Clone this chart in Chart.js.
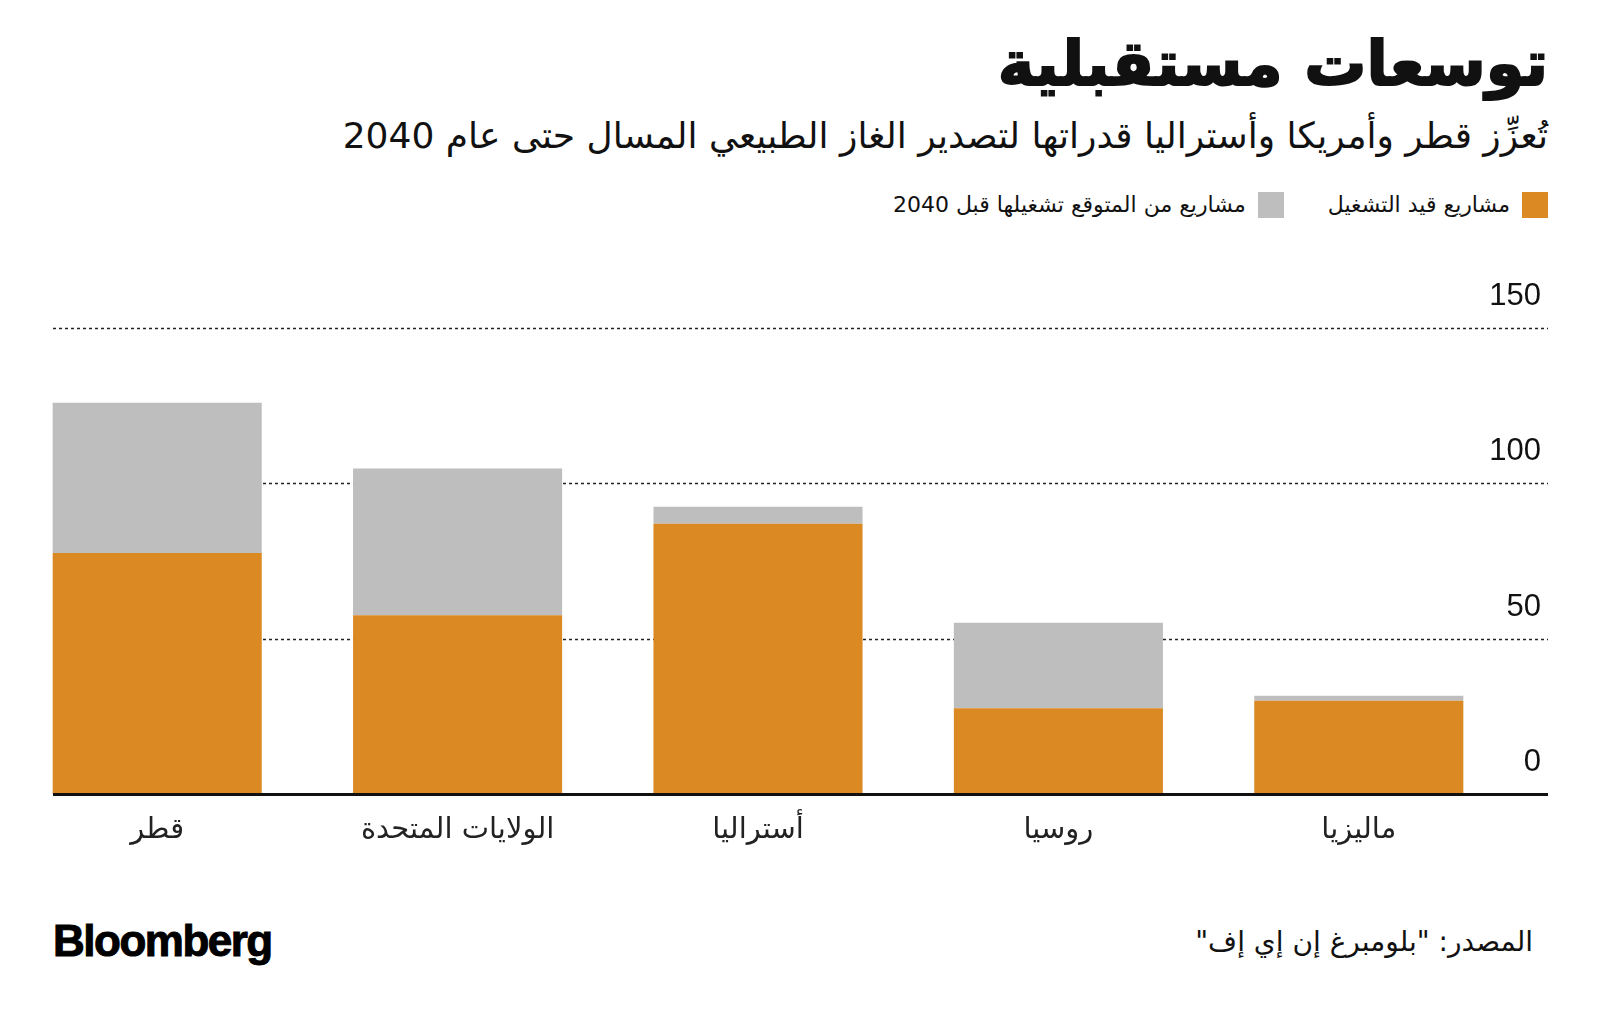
<!DOCTYPE html>
<html lang="ar">
<head>
<meta charset="utf-8">
<script src="https://cdn.jsdelivr.net/npm/chart.js@4.4.1/dist/chart.umd.min.js"></script>
<style>
  html, body { margin: 0; padding: 0; background: #fff; }
  body { width: 1600px; height: 1018px; position: relative; overflow: hidden; font-family: "DejaVu Sans", "Noto Sans", sans-serif; color: #111; }
  .rtl { position: absolute; right: 52px; direction: rtl; text-align: right; white-space: nowrap; line-height: 1; }
  #title { top: 33px; font-size: 62px; font-weight: bold; -webkit-text-stroke: 2px #111; }
  #subtitle { top: 118px; font-size: 36px; }
  #legend { top: 192px; font-size: 22px; display: flex; align-items: center; }
  .sw { width: 26px; height: 26px; display: inline-block; margin-left: 12px; }
  .lbl { margin-left: 44px; }
  #source { top: 928px; right: 67px; font-size: 28px; }
  #logo { position: absolute; left: 53px; top: 916px; font-family: "Liberation Sans", Arial, sans-serif; font-weight: bold; font-size: 44px; letter-spacing: -1.5px; color: #000; -webkit-text-stroke: 1px #000; }
  #chartBox { position: absolute; left: 0; top: 240px; width: 1600px; height: 620px; }
</style>
</head>
<body>
<div id="title" class="rtl">توسعات مستقبلية</div>
<div id="subtitle" class="rtl">تُعزِّز قطر وأمريكا وأستراليا قدراتها لتصدير الغاز الطبيعي المسال حتى عام 2040</div>
<div id="legend" class="rtl">
  <span class="sw" style="background:#DA8923"></span><span class="lbl">مشاريع قيد التشغيل</span>
  <span class="sw" style="background:#BEBEBE"></span><span>مشاريع من المتوقع تشغيلها قبل 2040</span>
</div>
<div id="chartBox"><canvas id="lngChart"></canvas></div>
<div id="logo">Bloomberg</div>
<div id="source" class="rtl">المصدر: "بلومبرغ إن إي إف"</div>

<script>
// LNG export capacity by country (left to right as shown)
const countries = ['قطر', 'الولايات المتحدة', 'أستراليا', 'روسيا', 'ماليزيا'];
const operating = [77.6, 57.5, 87, 27.6, 30];
const planned = [48.3, 47.3, 5.5, 27.5, 1.6];
const yTicks = [0, 50, 100, 150];

const orange = '#DA8923';
const grey = '#BEBEBE';

// dotted grid lines, baseline and right-side labels sit wider than the bar bands
const gridPlugin = {
    id: 'bbgGrid',
    beforeDatasetsDraw(chart) {
        const { ctx, scales: { y } } = chart;
        ctx.save();
        ctx.strokeStyle = '#222';
        ctx.lineWidth = 1.5;
        ctx.setLineDash([3, 3]);
        yTicks.forEach(v => {
            if (v === 0) return;
            const py = Math.round(y.getPixelForValue(v)) + 0.5;
            ctx.beginPath();
            ctx.moveTo(53, py);
            ctx.lineTo(1548, py);
            ctx.stroke();
        });
        ctx.restore();
    },
    afterDatasetsDraw(chart) {
        const { ctx, scales: { y } } = chart;
        ctx.save();
        const py0 = y.getPixelForValue(0);
        ctx.fillStyle = '#111';
        ctx.fillRect(53, py0 - 1, 1495, 3);
        ctx.font = '31px "Liberation Sans", Arial, sans-serif';
        ctx.textAlign = 'right';
        ctx.textBaseline = 'alphabetic';
        yTicks.forEach(v => {
            ctx.fillText(String(v), 1541, y.getPixelForValue(v) - 23);
        });
        ctx.restore();
    }
};

const ctx = document.getElementById('lngChart').getContext('2d');
const lngChart = new Chart(ctx, {
    type: 'bar',
    data: {
        labels: countries,
        datasets: [{
            label: 'مشاريع قيد التشغيل',
            data: operating,
            backgroundColor: orange,
            barPercentage: 0.696,
            categoryPercentage: 1
        },
        {
            label: 'مشاريع من المتوقع تشغيلها قبل 2040',
            data: planned,
            backgroundColor: grey,
            barPercentage: 0.696,
            categoryPercentage: 1
        }]
    },
    options: {
        responsive: true,
        maintainAspectRatio: false,
        animation: false,
        layout: { padding: { top: 88, left: 7, right: 91, bottom: 0 } },
        plugins: {
            legend: { display: false },
            tooltip: { enabled: false }
        },
        scales: {
            x: {
                stacked: true,
                grid: { display: false, drawTicks: false },
                border: { display: false },
                ticks: {
                    color: '#222',
                    padding: 19,
                    maxRotation: 0,
                    font: { family: '"DejaVu Sans", sans-serif', size: 29 }
                },
                afterFit(axis) { axis.height = 66; }
            },
            y: {
                stacked: true,
                display: false,
                min: 0,
                max: 150
            }
        }
    },
    plugins: [gridPlugin]
});
</script>
</body>
</html>
